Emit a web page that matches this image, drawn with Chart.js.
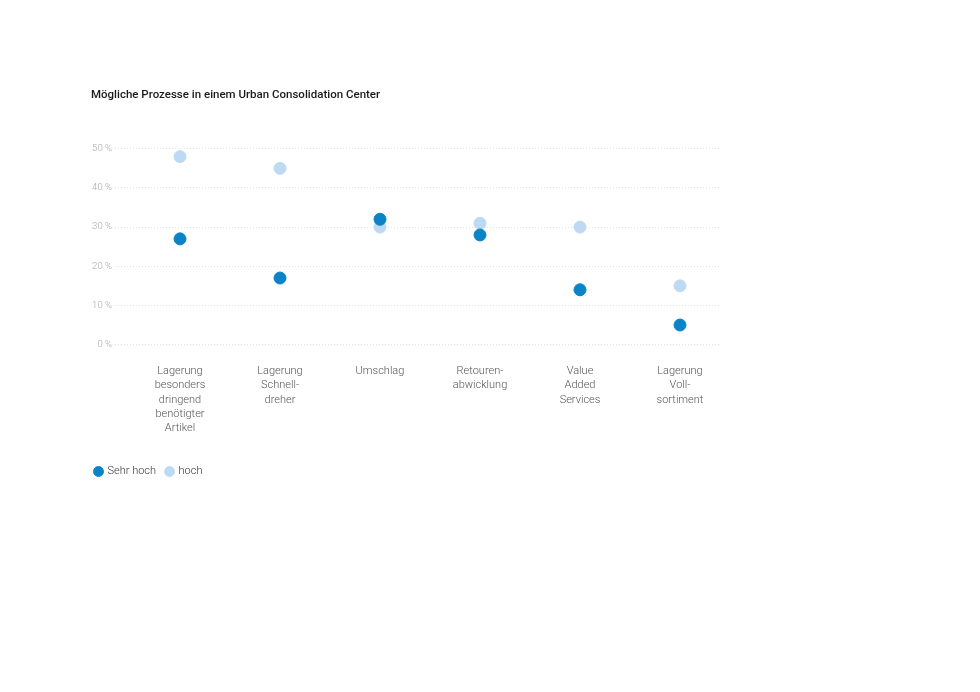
<!DOCTYPE html>
<html lang="de">
<head>
<meta charset="utf-8">
<title>Mögliche Prozesse in einem Urban Consolidation Center</title>
<script src="https://cdn.jsdelivr.net/npm/chart.js@4.4.1/dist/chart.umd.min.js"></script>
<style>
    html, body { margin: 0; padding: 0; background: #fff; }
    #wrap { width: 980px; height: 692px; }
</style>
</head>
<body>
<div id="wrap"><canvas id="uccChart"></canvas></div>
<script>
// Kategorien (mehrzeilige Beschriftung wie im Original)
const categories = [
    ['Lagerung', 'besonders', 'dringend', 'benötigter', 'Artikel'],
    ['Lagerung', 'Schnell-', 'dreher'],
    ['Umschlag'],
    ['Retouren-', 'abwicklung'],
    ['Value', 'Added', 'Services'],
    ['Lagerung', 'Voll-', 'sortiment']
];

// Werte in Prozent
const sehrHoch = [27, 17, 32, 28, 14, 5];
const hoch = [48, 45, 30, 31, 30, 15];

// Achsenbeschriftung y
const yTicks = [0, 10, 20, 30, 40, 50];
const yTickLabels = ['0 %', '10 %', '20 %', '30 %', '40 %', '50 %'];

const FONT = 'Roboto, "Open Sans", sans-serif';

function toPoints(values) {
    return values.map(function(v, i) { return { x: i, y: v }; });
}

// Legende etwas nach links ruecken, wie im Original
const legendShift = {
    id: 'legendShift',
    afterLayout: function(chart) {
        if (chart.legend) {
            chart.legend.left -= 6;
            chart.legend.right -= 6;
        }
    }
};

document.addEventListener('DOMContentLoaded', function() {
    const ctx = document.getElementById('uccChart');
    new Chart(ctx, {
        type: 'scatter',
        data: {
            datasets: [{
                label: 'Sehr hoch',
                data: toPoints(sehrHoch),
                backgroundColor: '#0a84c6',
                borderColor: '#0a84c6',
                pointRadius: 6,
                pointHoverRadius: 6
            }, {
                label: 'hoch',
                data: toPoints(hoch),
                backgroundColor: '#bed9f2',
                borderColor: '#bed9f2',
                pointRadius: 6,
                pointHoverRadius: 6
            }]
        },
        options: {
            responsive: true,
            maintainAspectRatio: false,
            animation: false,
            layout: {
                padding: { top: 88, left: 91, right: 260, bottom: 205 }
            },
            plugins: {
                title: {
                    display: true,
                    text: 'Mögliche Prozesse in einem Urban Consolidation Center',
                    align: 'start',
                    color: '#1a1a1a',
                    font: { family: FONT, size: 11.5, weight: '500' },
                    padding: { top: 0, bottom: 47 }
                },
                legend: {
                    position: 'bottom',
                    align: 'start',
                    labels: {
                        usePointStyle: true,
                        pointStyle: 'circle',
                        boxWidth: 7,
                        boxHeight: 7,
                        padding: 10,
                        color: '#333',
                        font: { family: FONT, size: 11, weight: '300' }
                    }
                },
                tooltip: { enabled: false }
            },
            scales: {
                x: {
                    type: 'linear',
                    min: -0.65,
                    max: 5.4,
                    afterBuildTicks: function(scale) {
                        scale.ticks = categories.map(function(c, i) { return { value: i }; });
                    },
                    afterFit: function(scale) { scale.height += 9; },
                    ticks: {
                        autoSkip: false,
                        maxRotation: 0,
                        padding: 12,
                        color: '#555',
                        font: { family: FONT, size: 11, weight: '300', lineHeight: 1.28 },
                        callback: function(value) { return categories[value]; }
                    },
                    grid: { display: false },
                    border: { display: false }
                },
                y: {
                    min: 0,
                    max: 50,
                    afterBuildTicks: function(scale) {
                        scale.ticks = yTicks.map(function(v) { return { value: v }; });
                    },
                    afterFit: function(scale) { scale.width = 24; },
                    ticks: {
                        padding: 3,
                        color: '#a8a8a8',
                        font: { family: FONT, size: 9.5, weight: '300' },
                        callback: function(value) { return yTickLabels[yTicks.indexOf(value)]; }
                    },
                    grid: {
                        color: '#e2e2e2',
                        drawTicks: false,
                        lineWidth: 1
                    },
                    border: { display: false, dash: [1, 2] }
                }
            }
        },
        plugins: [legendShift]
    });
});
</script>
</body>
</html>
